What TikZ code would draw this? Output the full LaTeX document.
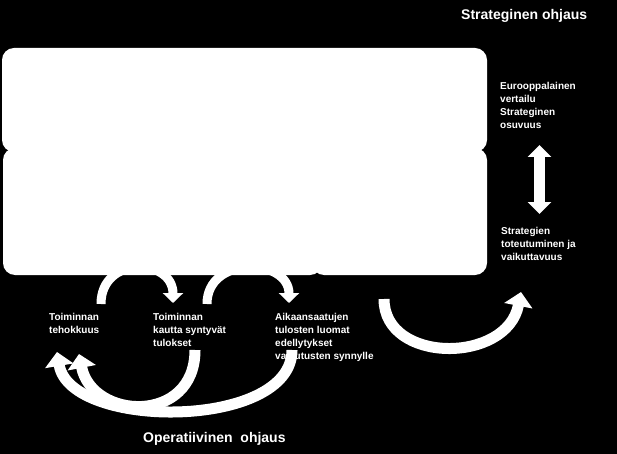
\documentclass[tikz,border=0pt]{standalone}
\usepackage{fontspec}
\setmainfont{Liberation Sans}
\usetikzlibrary{arrows.meta, positioning}

\tikzset{
  panel/.style={fill=white, rounded corners=12pt},
  steertext/.style={text=white, font=\bfseries\fontsize{10}{13}\selectfont,
    align=left, anchor=north west, inner sep=0pt},
  titletext/.style={text=white, font=\bfseries\fontsize{14}{16}\selectfont,
    anchor=base west, inner sep=0pt},
  looparrow/.style={draw=white, line width=9pt, -{Triangle[width=20pt,length=10pt]}},
  sweeparrow/.style={draw=white, line width=11pt, -{Triangle[width=28pt,length=14pt]}},
  dblarrow/.style={draw=white, line width=11pt,
    {Triangle[width=23pt,length=12pt]}-{Triangle[width=23pt,length=12pt]}}
}

\begin{document}
\begin{tikzpicture}[x=1pt, y=-1pt]
  % Background
  \fill[black] (0,0) rectangle (617,454);
  % Arrow ends
  \coordinate (effUp) at (101,304);
  \coordinate (resIn) at (173,303);
  \coordinate (resUp) at (207,304);
  \coordinate (condIn) at (289,303);
  \coordinate (resDown) at (195,350);
  \coordinate (effIn) at (79,354);
  \coordinate (condDown) at (292,350);
  \coordinate (effOut) at (57,352);
  \coordinate (panelOut) at (384,299);
  \coordinate (impactIn) at (521,292);
  \coordinate (euroEnd) at (539.5,145);
  \coordinate (impactEnd) at (539.5,214);
  % Operative loops
  \draw[looparrow] (effUp) .. controls (101,255) and (173,258) .. (resIn);
  \draw[looparrow] (resUp) .. controls (207,255) and (289,258) .. (condIn);
  \draw[sweeparrow] (resDown) .. controls (195,425) and (92,420) .. (effIn);
  \draw[sweeparrow] (condDown) .. controls (292,430) and (70,430) .. (effOut);
  \draw[sweeparrow] (panelOut) .. controls (384,364) and (507,364) .. (impactIn);
  % Strategic link
  \draw[dblarrow] (euroEnd) -- (impactEnd);
  % Panels
  \fill[panel] (2,48) rectangle (487,152);
  \fill[panel] (3,148) rectangle (322,275);
  \fill[panel] (312,148) rectangle (487,275);
  % Texts
  \node[titletext] (strat) at (461,19.5) {Strateginen ohjaus};
  \node[steertext] (euro) at (500,82.3) {Eurooppalainen\\vertailu\\Strateginen\\osuvuus};
  \node[steertext] (impact) at (501,227.3) {Strategien\\toteutuminen ja\\vaikuttavuus};
  \node[steertext] (eff) at (49,312.7) {Toiminnan\\tehokkuus};
  \node[steertext] (res) at (153,312.7) {Toiminnan\\kautta syntyvät\\tulokset};
  \node[steertext] (cond) at (275,312.7) {Aikaansaatujen\\tulosten luomat\\edellytykset\\vaikutusten synnylle};
  \node[titletext] (oper) at (143,442) {Operatiivinen\ \ ohjaus};
\end{tikzpicture}
\end{document}
